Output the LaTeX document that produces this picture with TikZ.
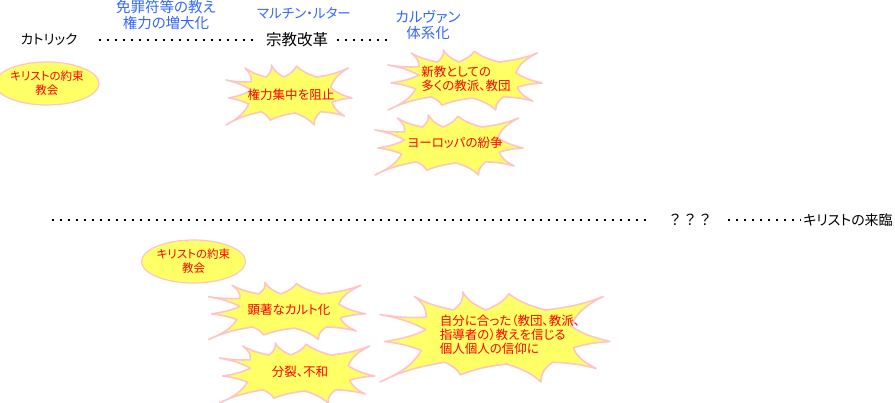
\documentclass[tikz,border=0pt]{standalone}
\usepackage{fontspec}
\setmainfont{Noto Sans CJK JP}[RawFeature=+palt]
\newfontfamily\jpfull{Noto Sans CJK JP}
\usepackage{tikz}
\usetikzlibrary{shapes,positioning}
\usepackage{xcolor}
\definecolor{jpblue}{RGB}{51,102,255}
\definecolor{burstyellow}{RGB}{255,255,102}
\definecolor{burstpink}{RGB}{255,196,196}
\definecolor{burstred}{RGB}{255,0,0}
\tikzstyle{dotline} = [line width=2.2pt, dash pattern=on 2.2pt off 5.8pt, color=black]
\tikzstyle{eranode} = [inner sep=1pt, text=black, font=\fontsize{13.5}{15}\selectfont]
\tikzstyle{notenode} = [inner sep=1pt, text=jpblue, align=center, font=\fontsize{14.5}{16}\selectfont]
\tikzstyle{burstnode} = [inner sep=1pt, text=burstred, align=left, font=\fontsize{12.5}{14}\selectfont]
\tikzstyle{churchnode} = [ellipse, draw=burstpink, fill=burstyellow, line width=1.2pt, inner sep=0pt, minimum width=93pt, minimum height=43pt, text=burstred, align=center, font=\fontsize{11.5}{14}\selectfont]
\tikzstyle{burstline} = [draw=burstpink, fill=burstyellow, line width=1.6pt, line join=round, every to/.style={bend right=14}]
\tikzset{
  burst/.pic={
    \draw[burstline] (-0.50,-0.25) to (-0.30,-0.22) to (-0.35,-0.45) to (-0.18,-0.30)
      to (-0.14,-0.50) to (-0.04,-0.30) to (0.06,-0.48) to (0.22,-0.30)
      to (0.47,-0.45) to (0.33,-0.12) to (0.50,0.05) to (0.34,0.12)
      to (0.44,0.35) to (0.25,0.28) to (0.20,0.50) to (0.05,0.30)
      to (-0.15,0.42) to (-0.22,0.28) to (-0.50,0.50) to (-0.32,0.15)
      to (-0.48,0.05) to (-0.30,-0.08) to (-0.50,-0.25) -- cycle;
  }
}

\begin{document}
\begin{tikzpicture}[x=1pt,y=-1pt]
\useasboundingbox (0,0) rectangle (895,403);

% upper time line
\node[eranode] (cath) at (49,40) {カトリック};
\node[eranode, font=\fontsize{15.5}{17}\selectfont] (reform) at (297,40) {宗教改革};
\node[notenode] (indul) at (166,15) {免罪符等の教え\\権力の増大化};
\node[notenode, font=\fontsize{13.5}{16}\selectfont] (luther) at (304,13) {マルチン・ルター};
\node[notenode] (calvin) at (428,25) {カルヴァン\\体系化};
\draw[dotline, shorten <=20pt, shorten >=12pt] (cath.east) -- (reform.west);
\draw[dotline, shorten <=8pt, shorten >=2pt] (reform.east) -- (reform.east -| calvin.west);

\node[churchnode] (church1) at (47,83.5) {キリストの約束\\教会};

\pic[xscale=126, yscale=60] at (289,95) {burst};
\pic[xscale=154, yscale=60] at (465,80) {burst};
\pic[xscale=148, yscale=60] at (449,145) {burst};
\node[burstnode] (stop) at (291,95) {権力集中を阻止};
\node[burstnode] (sects) at (466,79) {新教としての\\多くの教派、教団};
\node[burstnode] (war) at (455,143) {ヨーロッパの紛争};

% lower time line
\coordinate (left2) at (52,220);
\node[eranode, font=\jpfull\fontsize{15}{15}\selectfont] (q) at (690,220) {？？？};
\node[eranode, font=\fontsize{14}{15}\selectfont] (advent) at (848,220) {キリストの来臨};
\draw[dotline, shorten >=18pt] (left2) -- (q.west);
\draw[dotline, shorten <=14pt, shorten >=1pt] (q.east) -- (advent.west);

\node[churchnode] (church2) at (193.5,261.5) {キリストの約束\\教会};

\pic[xscale=157, yscale=57] at (287,311) {burst};
\pic[xscale=155, yscale=60] at (297,373) {burst};
\pic[xscale=230, yscale=90] at (495,337) {burst};
\node[burstnode] (cult) at (289,310) {顕著なカルト化};
\node[burstnode] (split) at (300,372) {分裂、不和};
\node[burstnode] (self) at (510,335) {自分に合った（教団、教派、\\指導者の）教えを信じる\\個人個人の信仰に};
\end{tikzpicture}
\end{document}
